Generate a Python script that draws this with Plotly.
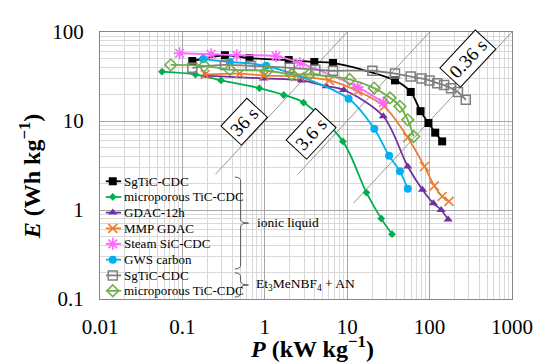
import plotly.graph_objects as go

# ---------------- data ----------------
names = ["SgTiC-CDC", "microporous TiC-CDC", "GDAC-12h", "MMP GDAC",
         "Steam SiC-CDC", "GWS carbon", "SgTiC-CDC", "microporous TiC-CDC"]

P_sg_il = [0.132, 0.328, 0.652, 1.95, 3.99, 6.73, 38.0, 59.0, 77.6, 96.8, 117, 142]
E_sg_il = [47.2, 54.8, 50.9, 48.4, 46.0, 44.9, 28.6, 21.2, 12.9, 9.5, 7.4, 5.9]

P_mp_il = [0.0565, 0.144, 0.294, 0.858, 1.70, 2.95, 8.86, 17.1, 25.9, 35.0]
E_mp_il = [35.8, 33.3, 28.6, 23.4, 19.6, 16.1, 5.9, 1.57, 0.80, 0.535]

P_gdac = [0.189, 0.957, 2.79, 5.55, 9.10, 27.4, 54.3, 82.0, 111, 138, 168]
E_gdac = [32.4, 30.1, 28.6, 24.6, 22.3, 11.3, 3.08, 1.69, 1.19, 1.0, 0.78]

P_mmp = [0.189, 0.495, 0.983, 2.65, 6.03, 13.4, 28.1, 54.3, 86.7, 114, 142, 172]
E_mmp = [33.3, 34.1, 32.4, 31.6, 28.6, 21.7, 14.6, 6.53, 3.08, 1.87, 1.42, 1.25]

P_steam = [0.0926, 0.223, 0.456, 1.37, 2.65, 13.4, 27.4]
E_steam = [57.7, 56.2, 54.8, 53.5, 44.9, 24.0, 16.1]

P_gws = [0.179, 0.376, 1.04, 10.4, 21.3, 32.2, 43.6, 54.3]
E_gws = [49.7, 46.0, 41.7, 17.8, 8.18, 4.06, 2.72, 1.73]

P_sg_an = [0.132, 0.328, 0.670, 2.01, 4.10, 6.73, 20.2, 38.0, 59.0, 79.8, 99.6, 124, 150, 182, 221, 275]
E_sg_an = [39.6, 42.7, 41.7, 39.6, 37.7, 36.7, 36.7, 34.1, 31.6, 30.1, 28.6, 26.6, 25.3, 23.4, 21.2, 17.3]

P_mp_an = [0.0723, 0.184, 0.376, 1.07, 2.12, 3.48, 10.7, 21.3, 33.1, 43.6, 54.3, 64.1]
E_mp_an = [42.7, 41.7, 37.7, 36.7, 33.3, 33.3, 29.3, 23.4, 18.2, 14.6, 10.3, 6.7]

# constant-time lines: E/P ratio and label
ratio_values = [10, 1, 0.1]
ratio_labels = ["36 s", "3.6 s", "0.36 s"]

x_tickvals = [0.01, 0.1, 1, 10, 100, 1000]
x_ticktext = ["0.01", "0.1", "1", "10", "100", "1000"]
y_tickvals = [0.1, 1, 10, 100]
y_ticktext = ["0.1", "1", "10", "100"]

# ---------------- styling ----------------
FONT = "Liberation Serif"
BODY = 8  # default page margin of the html body
W, H = 545, 362
L, R, T, B = 100, 26, 23, 63          # plot area in window pixels
PW, PH = W - L - R, H - T - B


def fx(px):
    return (px - L) / PW


def fy(py):
    return (H - B - py) / PH


styles = [
    dict(color="#000000", marker=dict(symbol="square", size=8, color="#000000")),
    dict(color="#00b050", marker=dict(symbol="diamond", size=6, color="#00b050")),
    dict(color="#7030a0", marker=dict(symbol="triangle-up", size=8, color="#7030a0")),
    dict(color="#ed7d31", marker=dict(symbol="x-thin", size=9, color="#ed7d31",
                                      line=dict(color="#ed7d31", width=1.6))),
    dict(color="#ff66ff", marker=dict(symbol="asterisk", size=10, color="#ff66ff",
                                      line=dict(color="#ff66ff", width=1.6))),
    dict(color="#00b0f0", marker=dict(symbol="circle", size=8, color="#00b0f0")),
    dict(color="#7f7f7f", marker=dict(symbol="square-open", size=9, color="#7f7f7f",
                                      line=dict(color="#7f7f7f", width=1.5))),
    dict(color="#70ad47", marker=dict(symbol="diamond-open", size=9, color="#70ad47",
                                      line=dict(color="#70ad47", width=1.5))),
]

series = [(P_sg_il, E_sg_il), (P_mp_il, E_mp_il), (P_gdac, E_gdac), (P_mmp, E_mmp),
          (P_steam, E_steam), (P_gws, E_gws), (P_sg_an, E_sg_an), (P_mp_an, E_mp_an)]

fig = go.Figure()

# white box region (legend area) in data units
box_px_right, box_px_top = 358, 170
P_box = 10 ** ((box_px_right - L) / PW * 5 - 2)
E_box = 10 ** (2 - (box_px_top - T) / PH * 3)

# constant-time diagonal lines
for k in ratio_values:
    p_start, e_start = 100 / k, 100
    if E_box / k < P_box:
        p_end, e_end = E_box / k, E_box
    else:
        p_end, e_end = P_box, k * P_box
    fig.add_trace(go.Scatter(x=[p_end, p_start], y=[e_end, e_start], mode="lines",
                             line=dict(color="#7f7f7f", width=0.8),
                             showlegend=False, hoverinfo="skip"))

# data series
for (P, E), st in zip(series, styles):
    fig.add_trace(go.Scatter(x=P, y=E, mode="lines+markers",
                             line=dict(color=st["color"], width=1.8, shape="spline", smoothing=0.9),
                             marker=st["marker"], showlegend=False))

# manual legend drawn on an overlay axis
rows_px = [177.3, 193.5, 209.7, 226, 242, 258.3, 274.6, 290.5]
annotations = []
for name, st, ry in zip(names, styles, rows_px):
    fig.add_trace(go.Scatter(x=[fx(106), fx(121.5)], y=[fy(ry), fy(ry)], mode="lines",
                             line=dict(color=st["color"], width=1.8),
                             xaxis="x2", yaxis="y2", showlegend=False, hoverinfo="skip"))
    fig.add_trace(go.Scatter(x=[fx(113)], y=[fy(ry)], mode="markers", marker=st["marker"],
                             xaxis="x2", yaxis="y2", showlegend=False, hoverinfo="skip"))
    annotations.append(dict(x=fx(122.5), y=fy(ry), xref="paper", yref="paper",
                            text=name, showarrow=False, xanchor="left", yanchor="middle",
                            font=dict(family=FONT, size=13, color="#000000")))


# braces
def brace(x0, x1, xt, ytop, ybot):
    ym = (ytop + ybot) / 2
    pts = (f"M {fx(x0)},{fy(ytop)} Q {fx(x1)},{fy(ytop)} {fx(x1)},{fy(ytop+4)} "
           f"L {fx(x1)},{fy(ym-4)} Q {fx(x1)},{fy(ym)} {fx(xt)},{fy(ym)} "
           f"Q {fx(x1)},{fy(ym)} {fx(x1)},{fy(ym+4)} "
           f"L {fx(x1)},{fy(ybot-4)} Q {fx(x1)},{fy(ybot)} {fx(x0)},{fy(ybot)}")
    return dict(type="path", path=pts, xref="paper", yref="paper",
                line=dict(color="#595959", width=1), layer="above")


shapes = [
    dict(type="rect", xref="paper", yref="paper", x0=0, x1=fx(box_px_right),
         y0=0, y1=fy(box_px_top), fillcolor="white", line=dict(width=0), layer="between"),
    brace(237, 243, 251, 173, 268),
    brace(237, 243, 251, 272, 297),
]

annotations.append(dict(x=fx(258), y=fy(220), xref="paper", yref="paper", text="ionic liquid",
                        showarrow=False, xanchor="left", yanchor="middle",
                        font=dict(family=FONT, size=13.5, color="#000000")))
annotations.append(dict(x=fx(257), y=fy(284), xref="paper", yref="paper",
                        text="Et<sub>3</sub>MeNBF<sub>4</sub> + AN",
                        showarrow=False, xanchor="left", yanchor="middle",
                        font=dict(family=FONT, size=13.5, color="#000000")))

# time labels on the diagonals
label_pos = [(247, 116), (315, 128), (474, 50)]
for txt, (lx, ly) in zip(ratio_labels, label_pos):
    annotations.append(dict(x=fx(lx), y=fy(ly), xref="paper", yref="paper", text=txt,
                            showarrow=False, textangle=-47, bgcolor="white",
                            xanchor="center", yanchor="middle",
                            bordercolor="#000000", borderwidth=1, borderpad=3,
                            font=dict(family=FONT, size=19, color="#000000")))

# axis titles
annotations.append(dict(x=fx(29), y=fy(172), xref="paper", yref="paper",
                        text="<b><i>E</i> (Wh kg<sup>−1</sup>)</b>", textangle=-90,
                        xanchor="center", yanchor="middle",
                        showarrow=False, font=dict(family=FONT, size=24, color="#000000")))
annotations.append(dict(x=fx(316), y=fy(331), xref="paper", yref="paper",
                        text="<b><i>P</i> (kW kg<sup>−1</sup>)</b>",
                        xanchor="center", yanchor="top",
                        showarrow=False, font=dict(family=FONT, size=24, color="#000000")))

axis_common = dict(showline=True, linecolor="#868686", linewidth=1, mirror=True,
                   showgrid=True, gridcolor="#a6a6a6", gridwidth=1, zeroline=False,
                   ticks="", tickfont=dict(family=FONT, size=21, color="#000000"),
                   minor=dict(showgrid=True, gridcolor="#d9d9d9", gridwidth=1, dtick="D1", ticks=""))

fig.update_layout(
    width=W - BODY, height=H - BODY,
    margin=dict(l=L - BODY, r=R, t=T - BODY, b=B),
    paper_bgcolor="white", plot_bgcolor="white",
    xaxis=dict(type="log", range=[-2, 3], tickvals=x_tickvals, ticktext=x_ticktext,
               ticklabelstandoff=9, **axis_common),
    yaxis=dict(type="log", range=[-1, 2], tickvals=y_tickvals, ticktext=y_ticktext,
               ticklabelstandoff=11, **axis_common),
    xaxis2=dict(overlaying="x", range=[0, 1], visible=False),
    yaxis2=dict(overlaying="y", range=[0, 1], visible=False),
    shapes=shapes,
    annotations=annotations,
    showlegend=False,
)

fig.write_html("out.html")
